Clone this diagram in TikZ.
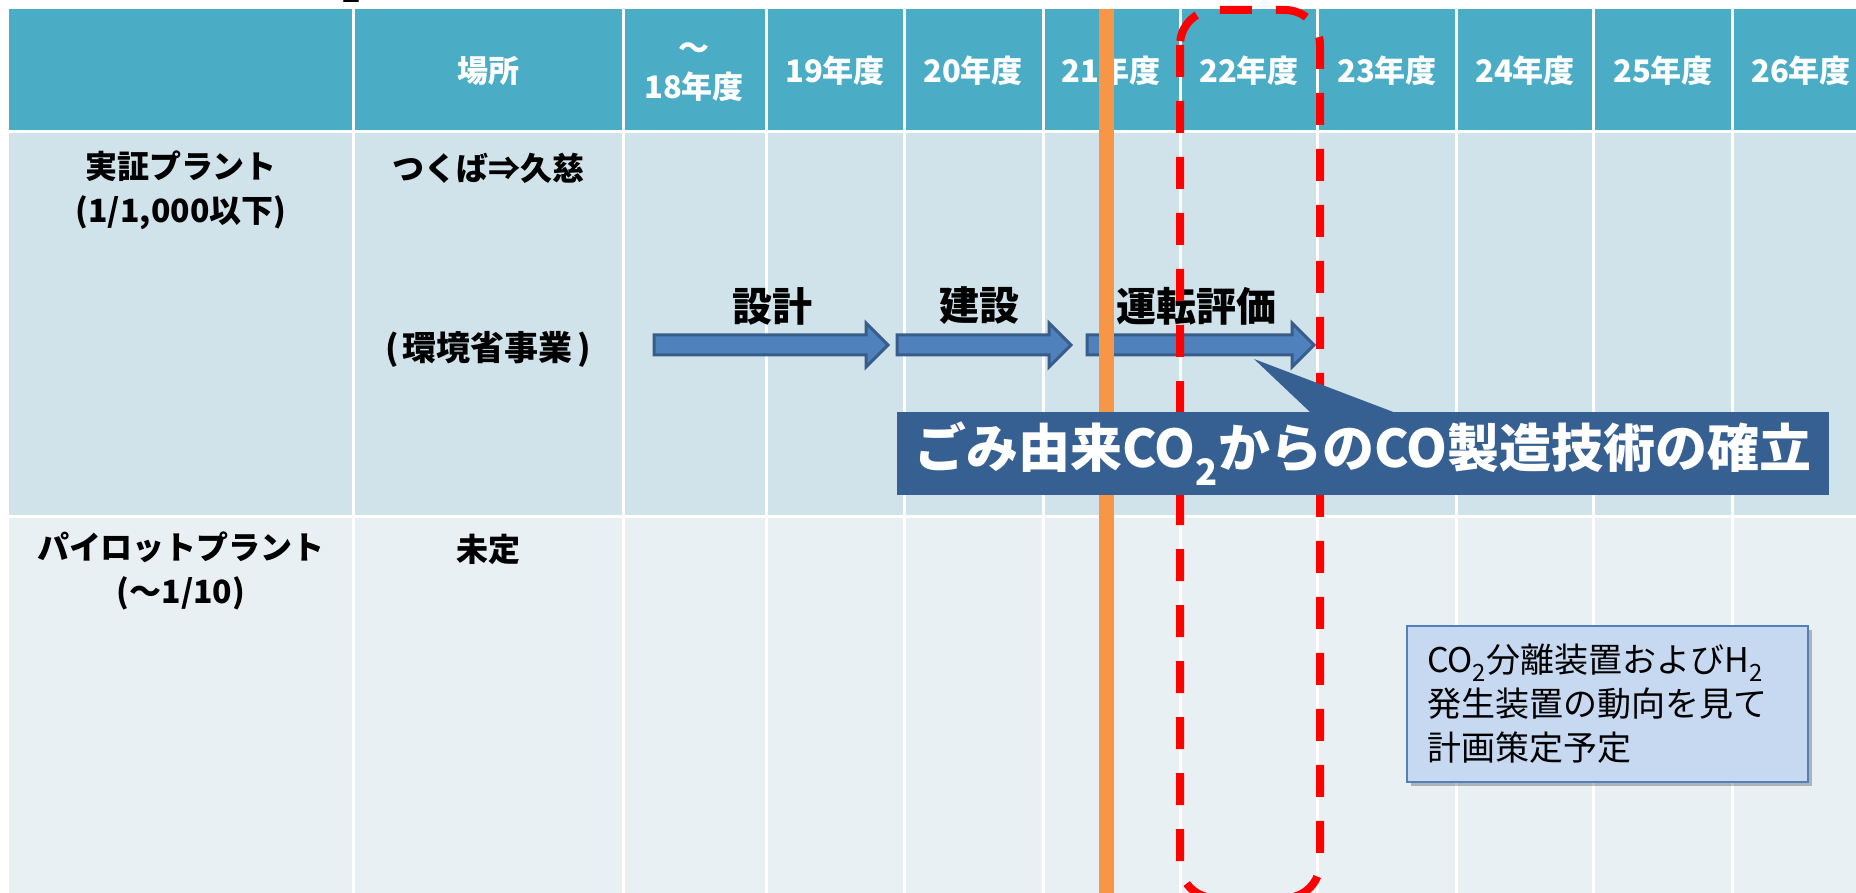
\documentclass[tikz,border=0pt]{standalone}
\usepackage{fontspec}
\setmainfont{Noto Sans CJK JP}
\usetikzlibrary{shadows}
\definecolor{hdr}{HTML}{4BACC6}
\definecolor{rowA}{HTML}{D0E3EA}
\definecolor{rowB}{HTML}{E9F0F4}
\definecolor{arrFill}{HTML}{4F81BD}
\definecolor{arrLine}{HTML}{385D8A}
\definecolor{calloutC}{HTML}{376092}
\definecolor{noteFill}{HTML}{C6D9F1}
\definecolor{noteLine}{HTML}{4F81BD}
\definecolor{orangeL}{HTML}{F79646}
\newcommand\myblockarrow[3]{%
  \filldraw[blockarrow] (#1,#3-10) -- (#2-22,#3-10) -- (#2-22,#3-22) -- (#2,#3)
    -- (#2-22,#3+22) -- (#2-22,#3+10) -- (#1,#3+10) -- cycle;}
\begin{document}
\begin{tikzpicture}[x=1pt,y=-1pt,
  hd/.style={text=white, inner sep=0pt, align=center,
    font=\fontsize{31}{39}\selectfont\bfseries},
  bt/.style={text=black, inner sep=0pt, align=center,
    font=\fontsize{32}{44}\selectfont\bfseries},
  lbl/.style={text=black, inner sep=0pt,
    font=\fontsize{40}{44}\selectfont\bfseries},
  blockarrow/.style={fill=arrFill, draw=arrLine, line width=3pt, line join=miter},
  gridline/.style={white, line width=3pt},
  reddash/.style={red, line width=8pt, dash pattern=on 32pt off 24pt, rounded corners=35pt},
  calloutbox/.style={fill=calloutC, text=white, inner sep=0pt,
    font=\fontsize{52}{52}\selectfont\bfseries},
  notebox/.style={fill=noteFill, draw=noteLine, line width=2pt, inner xsep=20pt, inner ysep=0pt,
    text width=361pt, align=left, minimum height=156pt,
    font=\fontsize{34}{44}\selectfont,
    drop shadow={shadow xshift=4pt, shadow yshift=-4pt, fill=black, opacity=0.25}},
]
\useasboundingbox (0,0) rectangle (1856,893);
\clip (0,0) rectangle (1856,893);
% fragment of a title above
\node[anchor=base, inner sep=0pt, font=\fontsize{30}{30}\selectfont\bfseries] (frag) at (352,3) {2};
% table
\fill[hdr] (9,9) rectangle (1880,130);
\fill[rowA] (9,133) rectangle (1880,515);
\fill[rowB] (9,518) rectangle (1880,900);
\foreach \x in {353,623,766,904,1043,1180,1317,1456,1593,1732}
  \draw[gridline] (\x,9) -- (\x,900);
% header
\node[hd] (h1) at (488,71) {場所};
\node[hd] (h2) at (694,72) {～\\18年度};
\node[hd] (h3) at (835,71) {19年度};
\node[hd] (h4) at (973,71) {20年度};
\node[hd] (h5) at (1111,71) {21年度};
\node[hd] (h6) at (1249,71) {22年度};
\node[hd] (h7) at (1387,71) {23年度};
\node[hd] (h8) at (1525,71) {24年度};
\node[hd] (h9) at (1663,71) {25年度};
\node[hd] (h10) at (1801,71) {26年度};
% body labels
\node[bt] (r1) at (181,190) {実証プラント\\(1/1,000以下)};
\node[bt] (loc1) at (488,168) {つくば⇒久慈};
\node[bt, font=\fontsize{34}{44}\selectfont\bfseries] (loc1b) at (488,349) {(\hspace{0.12em}環境省事業\hspace{0.12em})};
\node[bt] (r2) at (181,571) {パイロットプラント\\(～1/10)};
\node[bt] (loc2) at (488,549) {未定};
% arrows
\myblockarrow{654}{888}{345}
\myblockarrow{897}{1071}{345}
\myblockarrow{1087}{1314}{345}
\node[lbl] (l1) at (772,306) {設計};
\node[lbl] (l2) at (979,306) {建設};
\node[lbl] (l3) at (1196,306) {運転評価};
% red dashed frame
\draw[reddash] (1180,10) rectangle (1320,898);
% orange line
\draw[orangeL, line width=15pt] (1106,9) -- (1106,893);
% callout
\node[calloutbox, minimum width=932pt, minimum height=83pt] (co) at (1363,453.5)
  {ごみ由来CO\textsubscript{2}からのCO製造技術の確立};
\coordinate (tip) at (1254,359);
\fill[calloutC] ([xshift=413pt]co.north west) -- (tip) -- ([xshift=496pt]co.north west) -- cycle;
% note
\node[notebox] (nb) at (1607.5,704)
  {CO\textsubscript{2}分離装置およびH\textsubscript{2}\\発生装置の動向を見て\\計画策定予定};
\end{tikzpicture}
\end{document}
